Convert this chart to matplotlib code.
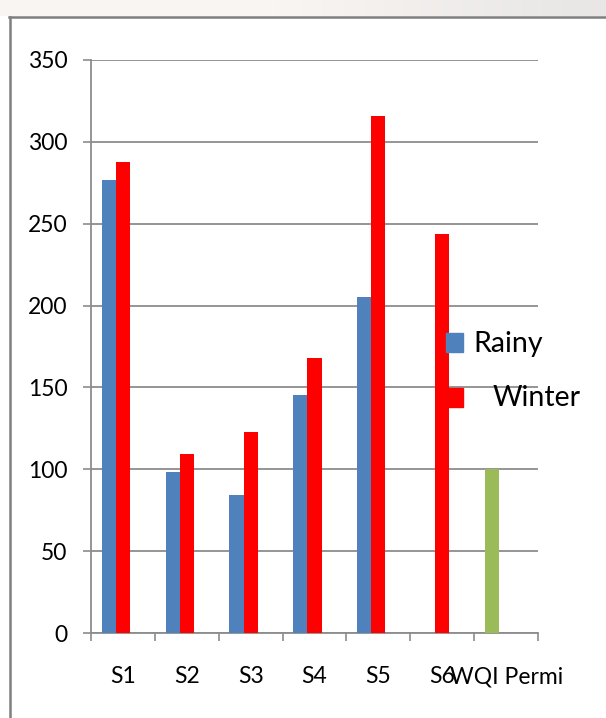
import numpy as np
import matplotlib
matplotlib.use("Agg")
import matplotlib.pyplot as plt
from matplotlib.patches import Rectangle
from matplotlib.lines import Line2D

plt.rcParams["font.family"] = ["Lato", "DejaVu Sans"]

# water quality index per sampling station, two seasons plus the permissible limit
stations = ["S1", "S2", "S3", "S4", "S5", "S6", "WQI Permi"]
rainy = [277, 98.5, 84, 145.5, 205.5, np.nan, np.nan]
winter = [288, 109.5, 122.5, 168, 316, 244, np.nan]
permissible = [np.nan, np.nan, np.nan, np.nan, np.nan, np.nan, 100]
yticks = [0, 50, 100, 150, 200, 250, 300, 350]

BLUE = "#4F81BD"
RED = "#FF0000"
GREEN = "#9BBB59"
GRID = "#8c8c8c"
INK = "#000000"

W, H = 606, 718
fig = plt.figure(figsize=(W / 100, H / 100), dpi=100)
fig.patch.set_facecolor("white")

# slide background peeking above the chart frame
band = fig.add_axes([0, 1 - 16 / H, 1, 16 / H])
grad = np.linspace(0, 1, 256)
shade = np.clip((grad - 0.45) * 2.0, 0, 1)
rgb = np.stack([0.975 - 0.06 * shade, 0.962 - 0.055 * shade, 0.952 - 0.05 * shade], axis=-1)
band.imshow(rgb[np.newaxis, :, :], aspect="auto", extent=[0, 1, 0, 1])
band.axis("off")

# chart frame (right and bottom edges fall outside the canvas)
fig.add_artist(Line2D([9 / W, 1.0], [1 - 16.5 / H] * 2, color="#7f7f7f", lw=1.8,
                      transform=fig.transFigure))
fig.add_artist(Line2D([9.5 / W] * 2, [0, 1 - 16.5 / H], color="#7f7f7f", lw=1.8,
                      transform=fig.transFigure))

ax = fig.add_axes([91 / W, 1 - 633 / H, (538 - 91) / W, (633 - 60) / H])
ax.set_facecolor("none")

x = np.arange(len(stations))
bw = 0.222
ax.bar(x - bw, rainy, width=bw, color=BLUE, zorder=3)
ax.bar(x, winter, width=bw, color=RED, zorder=3)
ax.bar(x - bw, permissible, width=bw, color=GREEN, zorder=3)

ax.set_xlim(-0.5, len(stations) - 0.5)
ax.set_ylim(0, 350)
ax.set_yticks(yticks)
ax.set_yticklabels([str(v) for v in yticks])
ax.set_xticks(x)
ax.set_xticklabels(stations)
ax.set_xticks(np.arange(len(stations) + 1) - 0.5, minor=True)

ax.yaxis.grid(True, color=GRID, lw=1.3, zorder=1)
ax.set_axisbelow(True)
for s in ("top", "right"):
    ax.spines[s].set_visible(False)
for s in ("left", "bottom"):
    ax.spines[s].set_color(GRID)
    ax.spines[s].set_linewidth(1.3)

ax.tick_params(axis="y", length=6, width=1.2, color=GRID, pad=11, labelsize=16.5, labelcolor=INK)
ax.tick_params(axis="x", which="major", length=0, pad=24, labelsize=16.5, labelcolor=INK)
ax.tick_params(axis="x", which="minor", length=6, width=1.2, color=GRID)

# legend: only the two seasons are listed
fig.add_artist(Rectangle((446 / W, 1 - 352 / H), 17 / W, 19 / H, color=BLUE,
                         transform=fig.transFigure))
fig.text(473 / W, 1 - 344 / H, "Rainy", fontsize=20.5, va="center", ha="left", color=INK)
fig.add_artist(Rectangle((446 / W, 1 - 407 / H), 17 / W, 19 / H, color=RED,
                         transform=fig.transFigure))
fig.text(493 / W, 1 - 398 / H, "Winter", fontsize=20.5, va="center", ha="left", color=INK)

fig.savefig("out.png", dpi=100, facecolor="white")
